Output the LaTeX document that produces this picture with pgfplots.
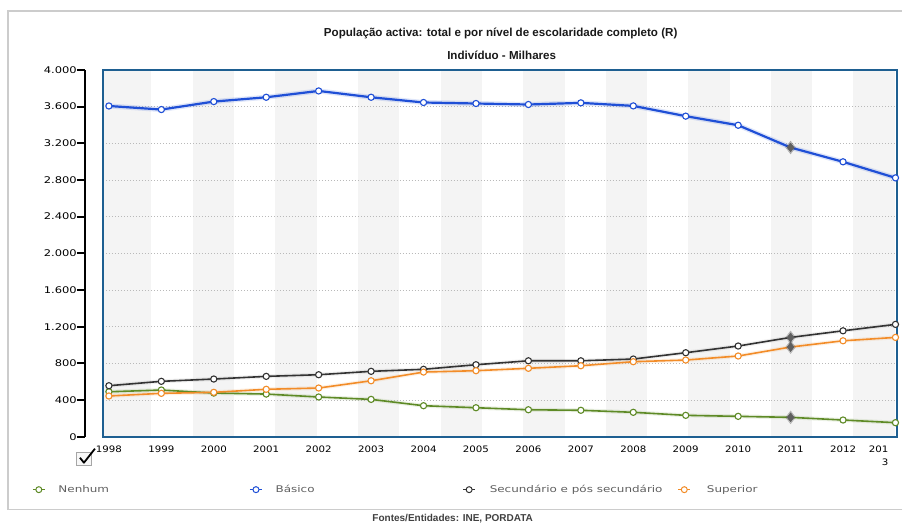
\documentclass[border=0pt]{standalone}
\usepackage{pgfplots}
\pgfplotsset{compat=1.18}
\usepackage{pgfplotstable}
\usepackage{fontspec}
\setmainfont{Liberation Sans}
\newfontfamily\tickfont[FakeStretch=1.15]{DejaVu Sans}
\newfontfamily\yfont[FakeStretch=1.25]{DejaVu Sans}
\newfontfamily\legfont[FakeStretch=1.3]{DejaVu Sans}

\definecolor{frameblue}{RGB}{30,95,145}
\definecolor{cbasico}{RGB}{31,79,214}
\definecolor{cnenhum}{RGB}{94,138,38}
\definecolor{csecund}{RGB}{51,51,51}
\definecolor{csuperior}{RGB}{242,140,40}
\definecolor{stripe}{RGB}{244,244,244}
\definecolor{hilite}{RGB}{95,95,95}
\definecolor{legtext}{RGB}{95,95,95}

% Active population (thousands) by completed education level
\pgfplotstableread{
year nenhum basico secundario superior
1998 490 3607 556 444
1999 509 3568 604 473
2000 476 3655 629 484
2001 465 3702 658 517
2002 433 3771 676 531
2003 407 3702 713 610
2004 338 3645 735 705
2005 316 3634 785 720
2006 294 3623 828 746
2007 288 3641 828 774
2008 266 3608 847 818
2009 233 3496 916 836
2010 222 3397 989 880
2011 211 3154 1083 978
2012 182 2998 1155 1046
2013 153 2823 1225 1083
}\datatable

\pgfplotsset{
  serie/.style={line width=1.6pt, color=#1, mark=*, mark size=3.1pt,
    mark options={fill=white, draw=#1, line width=1.1pt, solid},
    mark indices={1,2,3,4,5,6,7,8,9,10,11,12,13,15,16}},
  hlglow/.style={only marks, mark=diamond*, mark size=6.5pt,
    mark options={fill=gray, draw=none, opacity=0.25},
    mark indices={14}, forget plot},
  hl/.style={only marks, mark=diamond*, mark size=4.6pt,
    mark options={fill=hilite, draw=hilite, line width=0.5pt},
    mark indices={14}, forget plot},
  legimg/.style={color=#1, line width=1.3pt, mark=*, mark size=3pt,
    mark options={fill=white, draw=#1, line width=1pt, solid}},
}

\begin{document}
\begin{tikzpicture}
\path (0,0) rectangle (903pt,526pt);

% outer frame (its right side runs past the page)
\draw[gray!40, line width=1.2pt] (903pt,16pt) -- (8pt,16pt) -- (8pt,515pt) -- (903pt,515pt);

% separate value axis on the left
\begin{axis}[
  at={(85pt,89pt)}, anchor=south west, scale only axis,
  width=10pt, height=367pt,
  xmin=0, xmax=1, ymin=0, ymax=4000,
  axis x line=none, axis y line*=left,
  axis line style={-, black, line width=2pt},
  ytick={0,400,800,1200,1600,2000,2400,2800,3200,3600,4000},
  yticklabels={0,400,800,1.200,1.600,2.000,2.400,2.800,3.200,3.600,4.000},
  tick align=outside, major tick length=8pt,
  tick style={black, line width=2pt},
  yticklabel style={font=\yfont\fontsize{9.2}{11}\selectfont, anchor=east, inner sep=0pt},
]
\addplot[draw=none, forget plot] coordinates {(0,0)};
\end{axis}

% main plot area
\begin{axis}[
  at={(103pt,89pt)}, anchor=south west, scale only axis,
  width=795pt, height=367pt,
  set layers,
  xmin=1997.886, xmax=2013.037, ymin=0, ymax=4000,
  axis line style={draw=frameblue, line width=2pt},
  xtick={1998,1999,2000,2001,2002,2003,2004,2005,2006,2007,2008,2009,2010,2011,2012,2013},
  xticklabels={1998,1999,2000,2001,2002,2003,2004,2005,2006,2007,2008,2009,2010,2011,2012,
    {\makebox[0pt][r]{201\hspace*{7pt}}\\\makebox[0pt][r]{3\hspace*{7pt}}}},
  xticklabel style={font=\tickfont\fontsize{8.9}{13.5}\selectfont, anchor=north,
    inner sep=0pt, yshift=-9pt, align=right},
  major tick length=0pt,
  ytick={400,800,1200,1600,2000,2400,2800,3200,3600},
  yticklabels={},
  ymajorgrids,
  grid style={gray!55, line width=0.9pt, dash pattern=on 0.9pt off 2.1pt},
  clip=false,
  legend columns=4,
  legend image code/.code={\draw[mark repeat=2,mark phase=2,#1] plot coordinates {(0pt,0pt)(6pt,0pt)(12pt,0pt)};},
  legend style={at={(0,0)}, anchor=west, xshift=-71pt, yshift=-53pt,
    draw=none, fill=none, inner sep=0pt, text=legtext,
    nodes={inner sep=0pt},
    font=\legfont\fontsize{9.2}{11}\selectfont,
    /tikz/every even column/.append style={column sep=0pt},
    /tikz/every odd column/.append style={column sep=0pt}},
]
\begin{pgfonlayer}{axis background}
  \fill[stripe] (axis cs:1997.886,0) rectangle (axis cs:1998.80,4000);
  \pgfplotsinvokeforeach{0,1,2,3,4,5,6,7,8}{
    \fill[stripe] (axis cs:{1999.601+1.5743*#1},0) rectangle (axis cs:{1999.601+1.5743*#1+0.791},4000);
  }
\end{pgfonlayer}

% soft halo under the lines
\addplot[forget plot, cbasico, opacity=0.15, line width=5pt] table[x=year,y=basico]{\datatable};
\addplot[forget plot, csecund, opacity=0.08, line width=4pt] table[x=year,y=secundario]{\datatable};
\addplot[forget plot, csuperior, opacity=0.12, line width=4pt] table[x=year,y=superior]{\datatable};
\addplot[forget plot, cnenhum, opacity=0.12, line width=4pt] table[x=year,y=nenhum]{\datatable};

\addplot[serie=cnenhum, forget plot] table[x=year,y=nenhum]{\datatable};
\addplot[serie=cbasico, line width=2.2pt, forget plot] table[x=year,y=basico]{\datatable};
\addplot[serie=csecund, forget plot] table[x=year,y=secundario]{\datatable};
\addplot[serie=csuperior, forget plot] table[x=year,y=superior]{\datatable};

% highlighted 2011 values
\addplot[hlglow] table[x=year,y=nenhum]{\datatable};
\addplot[hlglow] table[x=year,y=basico]{\datatable};
\addplot[hlglow] table[x=year,y=secundario]{\datatable};
\addplot[hlglow] table[x=year,y=superior]{\datatable};
\addplot[hl] table[x=year,y=nenhum]{\datatable};
\addplot[hl] table[x=year,y=basico]{\datatable};
\addplot[hl] table[x=year,y=secundario]{\datatable};
\addplot[hl] table[x=year,y=superior]{\datatable};

\addlegendimage{legimg=cnenhum}
\addlegendentry{\makebox[204pt][l]{\hspace*{13pt}Nenhum}}
\addlegendimage{legimg=cbasico}
\addlegendentry{\makebox[200pt][l]{\hspace*{13pt}Básico}}
\addlegendimage{legimg=csecund}
\addlegendentry{\makebox[202pt][l]{\hspace*{14pt}Secundário e pós secundário}}
\addlegendimage{legimg=csuperior}
\addlegendentry{\hspace*{16pt}Superior}
\end{axis}

% titles
\node[font=\bfseries\fontsize{11.6}{13}\selectfont, text=black!90] at (501pt,493pt)
  {População activa: total e por nível de escolaridade completo (R)};
\node[font=\bfseries\fontsize{11.6}{13}\selectfont, text=black!90] at (502pt,471pt)
  {Indivíduo - Milhares};

% check box below the value axis
\draw[gray!70, line width=1pt, fill=gray!6] (77pt,60pt) rectangle (92pt,73pt);
\draw[black, line width=1.8pt, line join=round] (80pt,68pt) -- (84pt,63pt) -- (95pt,77pt);

% source line
\node[font=\bfseries\fontsize{10}{12}\selectfont, text=black!75, inner sep=0pt] at (453pt,7pt)
  {Fontes/Entidades: INE, PORDATA};
\end{tikzpicture}
\end{document}
